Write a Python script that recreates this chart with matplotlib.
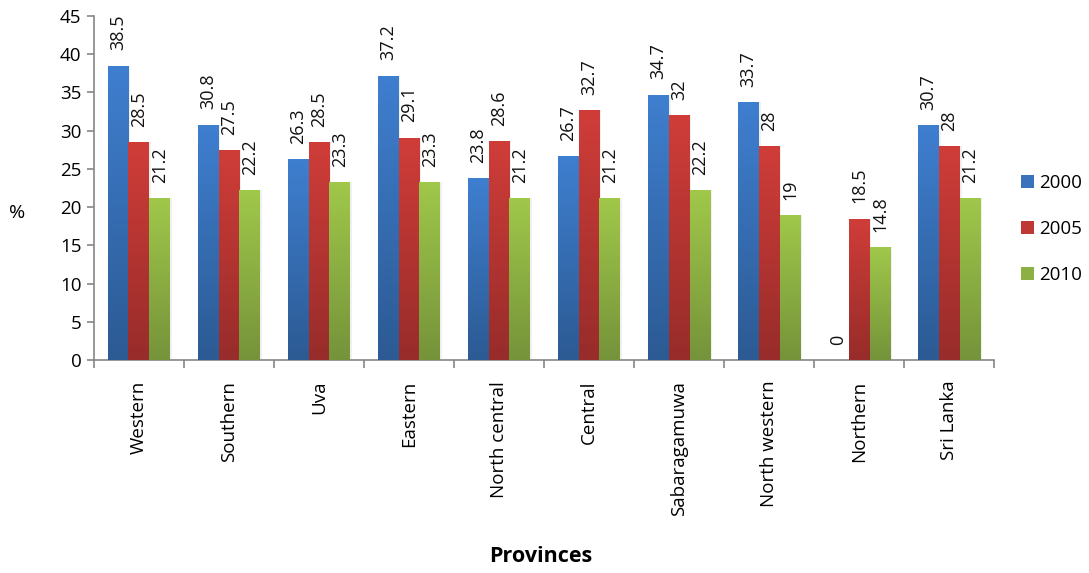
import numpy as np
import matplotlib.pyplot as plt
from matplotlib.colors import LinearSegmentedColormap
from matplotlib.patches import Patch

plt.rcParams['font.family'] = ['Open Sans', 'DejaVu Sans']

provinces = ['Western', 'Southern', 'Uva', 'Eastern', 'North central', 'Central',
             'Sabaragamuwa', 'North western', 'Northern', 'Sri Lanka']
years = ['2000', '2005', '2010']
v2000 = [38.5, 30.8, 26.3, 37.2, 23.8, 26.7, 34.7, 33.7, 0, 30.7]
v2005 = [28.5, 27.5, 28.5, 29.1, 28.6, 32.7, 32, 28, 18.5, 28]
v2010 = [21.2, 22.2, 23.3, 23.3, 21.2, 21.2, 22.2, 19, 14.8, 21.2]

# (top colour, bottom colour) for each series
shades = [('#3f7fd0', '#2c5a93'), ('#d03d39', '#972c2a'), ('#a0c84a', '#75933a')]
solid = ['#3a72bb', '#be3935', '#8db044']

fig = plt.figure(figsize=(10.89, 5.73), dpi=100)
ax = fig.add_axes([0.0863, 0.3717, 0.8265, 0.6003])

x = np.arange(len(provinces))
w = 0.233
grad = np.linspace(1, 0, 256).reshape(-1, 1)

for i, (vals, (top, bot)) in enumerate(zip([v2000, v2005, v2010], shades)):
    cmap = LinearSegmentedColormap.from_list('g%d' % i, [bot, top])
    pos = x + (i - 1) * w
    bars = ax.bar(pos, vals, w, color='none', edgecolor='none', zorder=2)
    for b, v in zip(bars, vals):
        # soft shadow behind each bar
        ax.bar(b.get_x() + b.get_width() / 2 + 0.012, v, w + 0.02, color='#000000',
               alpha=0.06, edgecolor='none', zorder=1)
        if v > 0:
            im = ax.imshow(grad, cmap=cmap, aspect='auto', zorder=3,
                           extent=[b.get_x(), b.get_x() + b.get_width(), 0, v],
                           vmin=0, vmax=1)
            im.set_clip_path(b)
        lbl = ('%g' % v)
        ax.annotate(lbl, (b.get_x() + b.get_width() / 2, v), xytext=(0, 11),
                    textcoords='offset points', rotation=90, ha='center',
                    va='bottom', fontsize=13, color='#111111', zorder=4)

ax.set_xlim(-0.5, len(provinces) - 0.5)
ax.set_ylim(0, 45)
ax.set_yticks(range(0, 46, 5))
ax.tick_params(axis='y', labelsize=13.5, length=5, color='#868686', width=1.2, pad=4)

ax.set_xticks(np.arange(-0.5, len(provinces), 1))
ax.set_xticklabels([])
ax.set_xticks(x, minor=True)
ax.set_xticklabels(provinces, minor=True, rotation=90, fontsize=13.5)
ax.tick_params(axis='x', which='major', length=6, color='#868686', width=1.2)
ax.tick_params(axis='x', which='minor', length=0, pad=15)

for s in ['top', 'right']:
    ax.spines[s].set_visible(False)
for s in ['left', 'bottom']:
    ax.spines[s].set_color('#868686')
    ax.spines[s].set_linewidth(1.2)

ax.set_ylabel('%', rotation=0, fontsize=14, va='center', ha='center')
ax.yaxis.set_label_coords(-0.085, 0.427)
fig.text(0.497, 0.01, 'Provinces', ha='center', va='bottom', fontsize=15.5,
         fontweight='bold')

handles = [Patch(facecolor=c, edgecolor='none') for c in solid]
fig.legend(handles, years, loc='center left', bbox_to_anchor=(0.922, 0.6),
           frameon=False, fontsize=13.5, handlelength=0.7, handleheight=0.7,
           handletextpad=0.25, labelspacing=1.5)

fig.savefig('out.png', dpi=100)
